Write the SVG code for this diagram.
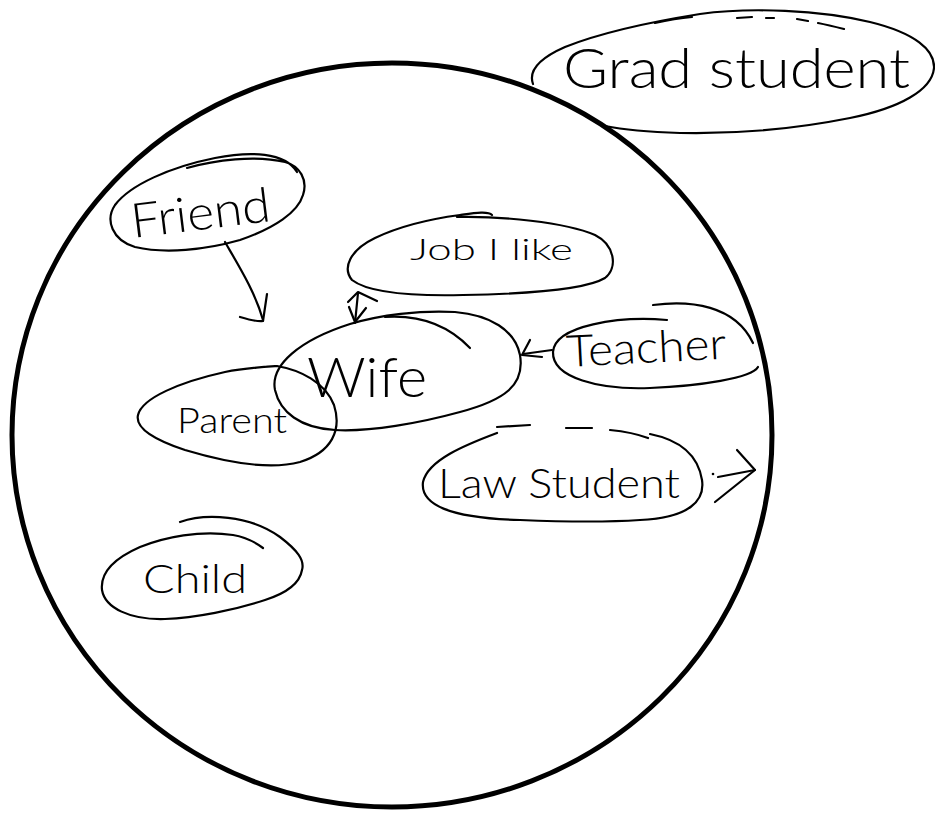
<svg xmlns="http://www.w3.org/2000/svg" width="935" height="813" viewBox="0 0 935 813">
  <style>
    .ink { fill: none; stroke: #000; stroke-width: 2.2; stroke-linecap: round; stroke-linejoin: round; }
    .rim { fill: none; stroke: #000; stroke-width: 5; }
    .lbl { font-family: "Lato", "Roboto", "Liberation Sans", sans-serif; font-weight: 300; fill: #000; }
  </style>
  <rect width="935" height="813" fill="#fff"/>

  <!-- outer boundary -->
  <g id="boundary">
    <ellipse class="rim" cx="392" cy="435" rx="380" ry="372"/>
  </g>

  <g id="grad-student">
    <path class="ink" d="M533,84 C528,70 540,58 565,47 C600,33 650,22 700,14 C750,7 820,10 870,22 C915,33 935,50 934,68 C932,90 900,108 850,118 C790,130 730,134 680,133 C650,132 625,130 605,126"/>
    <path class="ink" d="M655,23 C668,20 680,18 692,17 M737,18 L752,17 M766,18 L774,18 M797,19 L808,21 M818,23 C828,25 836,27 844,29"/>
    <text class="lbl" x="563" y="88" font-size="56" textLength="347" lengthAdjust="spacingAndGlyphs">Grad student</text>
  </g>

  <g id="friend">
    <path class="ink" d="M187,168 C215,160 255,155 285,162 C300,166 308,180 303,195 C298,212 275,228 240,240 C205,250 165,254 135,247 C112,240 105,220 115,205 C130,185 170,167 215,158 C250,151 285,152 297,172"/>
    <text class="lbl" x="133" y="238" font-size="48" textLength="140" lengthAdjust="spacingAndGlyphs" transform="rotate(-7 133 238)">Friend</text>
  </g>

  <g id="job">
    <path class="ink" d="M457,217 C500,216 565,222 595,235 C615,245 618,268 605,278 C585,290 520,294 463,295 C420,296 370,294 352,280 C342,268 350,250 375,238 C400,226 430,219 460,215 C475,213 488,211 492,215"/>
    <text class="lbl" x="410" y="260" font-size="30" textLength="163" lengthAdjust="spacingAndGlyphs">Job I like</text>
  </g>

  <g id="parent">
    <path class="ink" d="M255,368 C262,367 270,366 277,366 C300,370 325,382 334,405 C342,430 332,452 300,462 C270,470 225,462 185,450 C155,440 135,428 138,415 C142,398 180,382 225,372 C245,368 262,367 277,366"/>
    <text class="lbl" x="177" y="433" font-size="36" textLength="110" lengthAdjust="spacingAndGlyphs">Parent</text>
  </g>

  <g id="wife">
    <path class="ink" d="M350,324 C380,315 420,310 455,312 C490,315 515,330 520,355 C525,385 505,400 460,412 C420,423 370,432 335,430 C300,428 280,412 275,390 C270,365 300,340 350,324 Z"/>
    <path class="ink" d="M385,317 C415,315 445,322 470,348"/>
    <text class="lbl" x="307" y="397" font-size="56" textLength="120" lengthAdjust="spacingAndGlyphs">Wife</text>
  </g>

  <g id="teacher">
    <path class="ink" d="M667,320 C620,316 555,325 553,352 C552,378 600,390 650,388 C700,386 752,378 758,367"/>
    <path class="ink" d="M653,305 C690,300 735,305 753,343"/>
    <text class="lbl" x="567" y="367" font-size="44" textLength="160" lengthAdjust="spacingAndGlyphs" transform="rotate(-3 567 367)">Teacher</text>
  </g>

  <g id="law-student">
    <path class="ink" d="M497,433 C465,445 428,460 423,482 C420,505 450,518 520,520 C570,522 610,522 640,520 C690,518 705,500 702,480 C698,455 680,440 650,434"/>
    <path class="ink" d="M497,427 L530,425 M566,428 L592,428 M610,430 C630,432 640,435 648,438"/>
    <text class="lbl" x="438" y="498" font-size="42" textLength="242" lengthAdjust="spacingAndGlyphs">Law Student</text>
  </g>

  <g id="child">
    <path class="ink" d="M180,522 C205,513 250,515 280,537 C297,550 305,560 302,570 C300,582 290,592 265,600 C235,610 195,618 165,619 C130,620 105,608 102,590 C100,572 115,558 140,547 C165,537 200,530 233,535 C245,537 255,542 263,548"/>
    <text class="lbl" x="143" y="593" font-size="40" textLength="104" lengthAdjust="spacingAndGlyphs">Child</text>
  </g>

  <!-- connectors -->
  <g id="connectors">
    <!-- friend to wife -->
    <path class="ink" d="M225,242 C240,268 255,292 263,320"/>
    <path class="ink" d="M240,317 C250,320 257,322 263,321 L267,294"/>
    <!-- job and wife, both ways -->
    <path class="ink" d="M358,293 L355,323"/>
    <path class="ink" d="M348,302 L358,292 L377,301"/>
    <path class="ink" d="M349,307 L355,322 L366,308"/>
    <!-- teacher to wife -->
    <path class="ink" d="M552,350 L523,354"/>
    <path class="ink" d="M530,340 L522,355 L542,357"/>
    <!-- law student, outward -->
    <circle cx="713" cy="474" r="1.3" fill="#000"/>
    <path class="ink" d="M718,477 L755,470"/>
    <path class="ink" d="M737,450 L755,470 L715,502"/>
  </g>
</svg>
